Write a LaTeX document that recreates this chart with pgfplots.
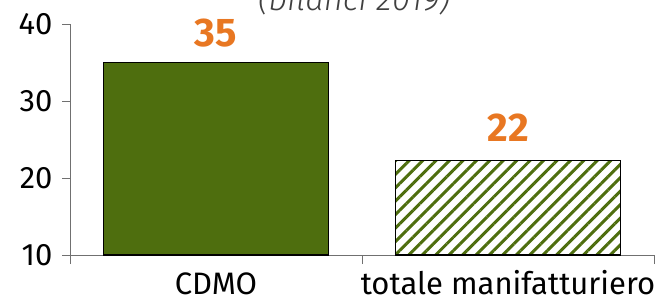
\documentclass[border=0pt]{standalone}
\usepackage{pgfplots}
\pgfplotsset{compat=1.18}
\usetikzlibrary{patterns.meta}
\usepackage{fontspec}
\setmainfont{Fira Sans}
\newfontfamily\lightit{Fira Sans Light Italic}
\definecolor{barg}{HTML}{4E6E0E}
\definecolor{lab}{HTML}{E87722}
\definecolor{axc}{HTML}{707070}
\begin{document}
\begin{tikzpicture}[x=1pt,y=1pt]
\useasboundingbox (0,0) rectangle (655,301);
\node[anchor=base, font=\fontsize{33}{35}\selectfont\lightit, text=black!75, inner sep=0pt] at (354,291) {(bilanci 2019)};
\begin{axis}[at={(70pt,46pt)}, anchor=south west, scale only axis,
  width=584pt, height=231pt,
  xmin=-0.5, xmax=1.5, ymin=10, ymax=40,
  axis x line*=bottom, axis y line*=left,
  axis line style={axc, line width=0.8pt},
  /pgf/number format/assume math mode=true,
  ytick={10,20,30,40},
  tick align=outside,
  major tick length=8pt,
  tick style={axc, line width=0.8pt},
  xtick={0,1}, xticklabels={CDMO, totale manifatturiero},
  x tick style={draw=none},
  extra x ticks={-0.5,0.5,1.5}, extra x tick labels={},
  extra x tick style={x tick style={draw=axc}, major tick length=9pt},
  ticklabel style={font=\fontsize{31}{33}\selectfont, text=black},
  xticklabel style={anchor=base, yshift=-31pt},
  yticklabel style={xshift=-6pt},
  bar width=0.77,
  nodes near coords={\pgfmathprintnumber[fixed,precision=0]{\pgfplotspointmeta}},
  every node near coord/.append style={font=\fontsize{40}{42}\selectfont\bfseries, text=lab, anchor=base},
]
\addplot[ybar, bar shift=0pt, fill=barg, draw=black, line width=1.2pt,
  every node near coord/.append style={yshift=16pt}] coordinates {(0,35.0)};
\addplot[ybar, bar shift=0pt, draw=black, line width=1.2pt,
  pattern={Lines[angle=45,distance=9.5pt,line width=3pt]}, pattern color=barg,
  every node near coord/.append style={yshift=19pt}] coordinates {(1,22.3)};
\end{axis}
\end{tikzpicture}
\end{document}
